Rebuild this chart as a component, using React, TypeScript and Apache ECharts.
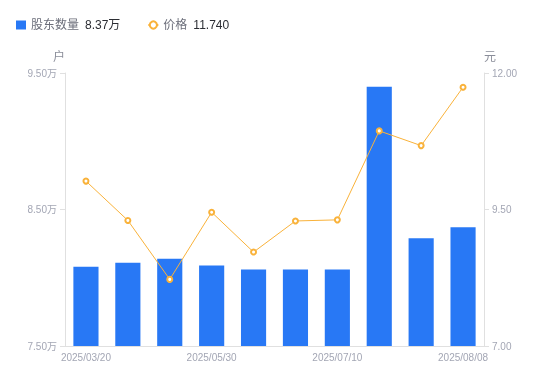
import React, { useEffect, useRef } from "react";
import * as echarts from "echarts";

const categories = [
  "2025/03/20",
  "2025/03/31",
  "2025/04/30",
  "2025/05/30",
  "2025/06/10",
  "2025/06/30",
  "2025/07/10",
  "2025/07/20",
  "2025/07/31",
  "2025/08/08",
];
const holders = [8.08, 8.11, 8.14, 8.09, 8.06, 8.06, 8.06, 9.4, 8.29, 8.37];
const prices = [10.02, 9.3, 8.22, 9.45, 8.72, 9.29, 9.31, 10.94, 10.67, 11.74];
const leftTicks = [7.5, 8.5, 9.5];
const rightTicks = [7.0, 9.5, 12.0];

const BAR_COLOR = "#2878F5";
const LINE_COLOR = "#F9B23A";
const AXIS_LABEL = "#A3A6B4";
const AXIS_LINE = "#E0E0E0";
const FONT = "'Liberation Sans', 'Noto Sans CJK SC', sans-serif";

export default function App() {
  const ref = useRef<HTMLDivElement>(null);
  useEffect(() => {
    if (!ref.current) return;
    const chart = echarts.init(ref.current, null, { renderer: "svg" });
    const lastHolder = holders[holders.length - 1];
    const lastPrice = prices[prices.length - 1];
    chart.setOption({
      animation: false,
      textStyle: { fontFamily: FONT },
      legend: {
        left: 11,
        top: 14,
        itemWidth: 10,
        itemHeight: 9,
        itemGap: 27,
        data: [
          { name: "股东数量", icon: "rect" },
          { name: "价格" },
        ],
        formatter: (name: string) =>
          name === "股东数量"
            ? `{n|${name}}{v|${lastHolder.toFixed(2)}万}`
            : `{n|${name}}{v|${lastPrice.toFixed(3)}}`,
        textStyle: {
          fontFamily: FONT,
          rich: {
            n: { fontSize: 12, color: "#6B6E7A", padding: [0, 6, 0, 0], fontFamily: FONT },
            v: { fontSize: 12, color: "#2B2D33", fontFamily: FONT },
          },
        },
      },
      grid: { left: 65, right: 66, top: 73, bottom: 35 },
      xAxis: {
        type: "category",
        data: categories,
        axisLine: { show: true, lineStyle: { color: AXIS_LINE } },
        axisTick: { show: false },
        axisLabel: { interval: 2, color: AXIS_LABEL, fontSize: 10, margin: 6 },
      },
      yAxis: [
        {
          type: "value",
          name: "户",
          nameGap: 10,
          nameTextStyle: { color: "#8A8D99", fontSize: 12, align: "right" },
          min: leftTicks[0],
          max: leftTicks[leftTicks.length - 1],
          interval: leftTicks[1] - leftTicks[0],
          axisLine: { show: true, lineStyle: { color: AXIS_LINE } },
          axisTick: { show: true, length: 5, lineStyle: { color: AXIS_LINE } },
          splitLine: { show: false },
          axisLabel: {
            color: AXIS_LABEL,
            fontSize: 10,
            margin: 8,
            formatter: (v: number) => `${v.toFixed(2)}万`,
          },
        },
        {
          type: "value",
          name: "元",
          nameGap: 10,
          nameTextStyle: { color: "#8A8D99", fontSize: 12, align: "left" },
          min: rightTicks[0],
          max: rightTicks[rightTicks.length - 1],
          interval: rightTicks[1] - rightTicks[0],
          position: "right",
          axisLine: { show: true, lineStyle: { color: AXIS_LINE } },
          axisTick: { show: true, length: 5, lineStyle: { color: AXIS_LINE } },
          splitLine: { show: false },
          axisLabel: {
            color: AXIS_LABEL,
            fontSize: 10,
            margin: 8,
            formatter: (v: number) => v.toFixed(2),
          },
        },
      ],
      series: [
        {
          name: "股东数量",
          type: "bar",
          data: holders,
          barWidth: "60%",
          itemStyle: { color: BAR_COLOR },
          yAxisIndex: 0,
        },
        {
          name: "价格",
          type: "line",
          data: prices,
          yAxisIndex: 1,
          symbol: "emptyCircle",
          symbolSize: 5,
          lineStyle: { color: LINE_COLOR, width: 1 },
          itemStyle: { color: LINE_COLOR, borderWidth: 2, borderColor: LINE_COLOR },
        },
      ],
    });
    return () => chart.dispose();
  }, []);
  return (
    <div
      ref={ref}
      style={{ position: "fixed", left: 0, top: 0, width: 550, height: 381 }}
    />
  );
}
